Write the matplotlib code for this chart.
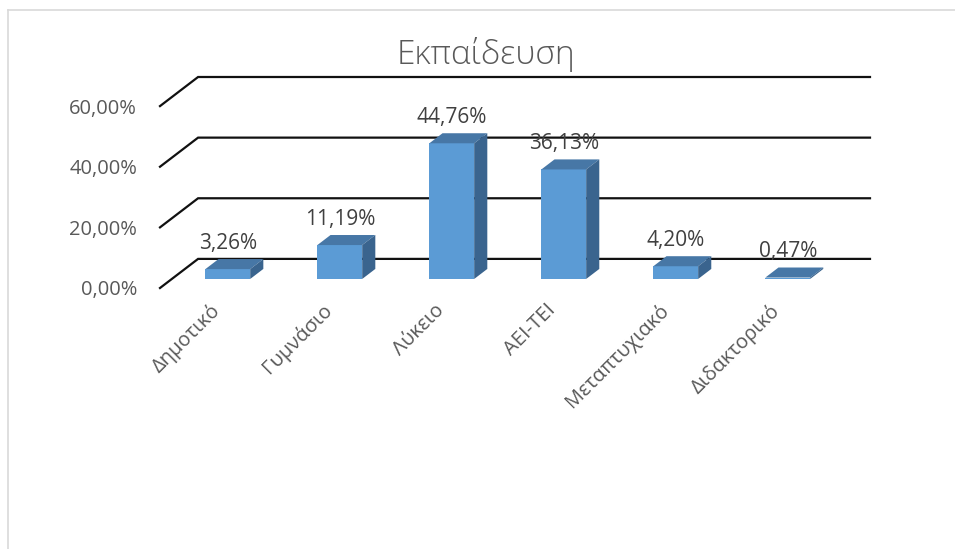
import numpy as np
import matplotlib.pyplot as plt
from matplotlib.lines import Line2D
from matplotlib.patches import Polygon

plt.rcParams['font.family'] = ['Open Sans', 'DejaVu Sans']

categories = ['Δημοτικό', 'Γυμνάσιο', 'Λύκειο', 'ΑΕΙ-ΤΕΙ', 'Μεταπτυχιακό', 'Διδακτορικό']
values = [3.26, 11.19, 44.76, 36.13, 4.20, 0.47]
yticks = [0, 20, 40, 60]
title = 'Εκπαίδευση'

TEXT = '#595959'
FRONT = '#5b9bd5'
TOP = '#4777a6'
SIDE = '#3a648e'

# oblique depth of the floor, in data units (categories / percent)
DX, DY = 0.34, 9.6
# bars sit between these fractions of the floor depth
D0, D1 = 0.31, 0.655
W = 0.4

def pct(v):
    return ('%.2f%%' % v).replace('.', ',')

fig = plt.figure(figsize=(9.55, 5.49), dpi=100)
ax = fig.add_axes([160 / 955, 1 - 288 / 549, 710 / 955, 211 / 549])
n = len(categories)
ax.set_xlim(0, n + DX)
ax.set_ylim(0, yticks[-1] + DY)

# gridlines: short diagonal on the left wall, then along the back wall
for t in yticks:
    ax.plot([0, DX, n + DX], [t, t + DY, t + DY], color='#111111', lw=1.6,
            solid_joinstyle='miter', clip_on=False, zorder=1)

xc = np.arange(n) + 0.5 + D0 * DX
base = D0 * DY
dd = D1 - D0
ax.bar(xc, values, width=W, bottom=base, color=FRONT, zorder=3)
for x, v in zip(xc, values):
    xl, xr = x - W / 2, x + W / 2
    top = base + v
    ax.add_patch(Polygon([(xl, top), (xr, top), (xr + dd * DX, top + dd * DY),
                          (xl + dd * DX, top + dd * DY)],
                         closed=True, facecolor=TOP, edgecolor='none', zorder=3))
    ax.add_patch(Polygon([(xr, base), (xr, top), (xr + dd * DX, top + dd * DY),
                          (xr + dd * DX, base + dd * DY)],
                         closed=True, facecolor=SIDE, edgecolor='none', zorder=3))
    ax.text(x, v + D1 * DY + 5.2, pct(v), ha='center', va='center',
            fontsize=15, color='#404040', zorder=4)

for x, c in zip(xc, categories):
    ax.text(x - 0.16, -4, c, rotation=45, ha='right', va='top',
            rotation_mode='anchor', fontsize=14.5, color=TEXT, clip_on=False)

ax.set_yticks(yticks)
ax.set_yticklabels([pct(t) for t in yticks])
ax.set_xticks([])
ax.tick_params(axis='y', length=0, pad=16.5, labelsize=14.5, labelcolor=TEXT)
for s in ax.spines.values():
    s.set_visible(False)
ax.patch.set_visible(False)

fig.text(486 / 955, 1 - 55 / 549, title, ha='center', va='center',
         fontsize=24, color=TEXT, fontweight='light')

# chart area border (only its left and top edges fall inside the image)
fig.add_artist(Line2D([7.5 / 955, 7.5 / 955], [0, 1 - 9.5 / 549],
                      color='#d9d9d9', lw=1.2))
fig.add_artist(Line2D([7.5 / 955, 1], [1 - 9.5 / 549, 1 - 9.5 / 549],
                      color='#d9d9d9', lw=1.2))

fig.savefig('out.png', dpi=100)
